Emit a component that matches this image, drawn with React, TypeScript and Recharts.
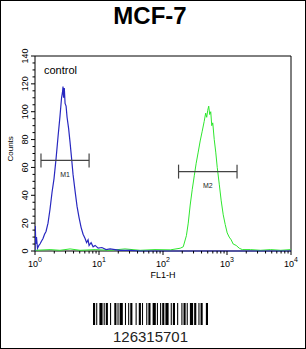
import React from "react";
import {
  LineChart,
  Line,
  XAxis,
  YAxis,
  ReferenceArea,
  ReferenceLine,
  ReferenceDot,
} from "recharts";

// control histogram (FL1-H, counts)
const controlFl1 = [
  1.0, 1.011, 1.029, 1.055, 1.094, 1.15, 1.197, 1.26, 1.334, 1.41, 1.487, 1.597,
  1.716, 1.844, 1.983, 2.13, 2.29, 2.46, 2.6, 2.69, 2.74, 2.8, 2.87, 2.95, 3.06,
  3.17, 3.35, 3.53, 3.72, 3.93, 4.23, 4.54, 4.88, 5.25, 5.64, 6.06, 6.4, 6.75,
  7.0, 7.53, 8.09, 8.7, 9.7, 11.1, 12.9, 14.9, 17.8, 21.4, 30.6, 44, 100, 1000,
  10000,
];
const controlCounts = [
  0, 18, 5, 10, 2, 4, 5, 7, 9, 12, 14, 20, 30, 42, 52, 66, 82, 97, 110, 114,
  118, 110, 117, 106, 104, 96, 88, 78, 67, 55, 43, 32, 24, 17, 12, 9, 6, 8, 4,
  6, 3, 4, 2, 2.5, 1, 1.5, 1, 0.5, 0.5, 0, 0, 0, 0,
];

// sample histogram
const sampleFl1 = [
  1.0, 1.72, 2.46, 3.53, 5.06, 8.7, 14.9, 25.5, 44, 75, 130, 186, 207, 232, 248,
  266, 286, 308, 330, 355, 381, 410, 440, 464, 482, 500, 518, 537, 557, 578,
  599, 632, 667, 704, 757, 812, 873, 938, 1007, 1082, 1163, 1250, 1391, 1553,
  1732, 2320, 3340, 4800, 6900, 9900,
];
const sampleCounts = [
  0.5, 1, 0.5, 1.5, 0.5, 1, 0.5, 1.5, 0.5, 1, 0.8, 2, 3, 11, 20, 33, 44, 54, 63,
  71, 79, 86, 93, 99, 96, 101, 104, 98, 100, 90, 92, 80, 71, 60, 48, 36, 26, 19,
  13, 10, 8, 5, 4, 2, 1, 1, 0.5, 1, 0.5, 1,
];

const majorX = [1, 10, 100, 1000, 10000];
const minorMult = [2, 3, 4, 5, 6, 7, 8, 9];
const yTicks = [
  0, 5, 10, 15, 20, 25, 30, 35, 40, 45, 50, 55, 60, 65, 70, 75, 80, 85, 90, 95,
  100, 105, 110, 115, 120, 125, 130, 135, 140,
];

const markers = [
  { name: "M1", from: 1.24, to: 7.0, level: 65 },
  { name: "M2", from: 175, to: 1435, level: 57 },
];

const barcodeWidths = [
  2, 1, 1, 2, 3, 1, 1, 1, 2, 2, 1, 3, 2, 1, 1, 1, 3, 2, 1, 2, 1, 1, 2, 3, 1, 2,
  2, 1, 1, 3, 1, 1, 2, 2, 3, 1, 1, 2, 1, 1, 2, 1, 3, 2, 1, 1, 2, 2, 1, 3, 1, 1,
  2, 1, 1, 2, 3, 1, 2, 2, 1, 1, 2, 3, 2,
];
const barcodeText = "126315701";

const blueData = controlFl1.map((fl1, i) => ({ fl1, count: controlCounts[i] }));
const greenData = sampleFl1.map((fl1, i) => ({ fl1, count: sampleCounts[i] }));
const xTicks = majorX.flatMap((d) =>
  d === 10000 ? [d] : [d, ...minorMult.map((m) => d * m)],
);

const font = "'Liberation Sans', Arial, sans-serif";

function XTick(props: any) {
  const { x, y, payload } = props;
  const v = payload.value as number;
  const major = majorX.includes(v);
  return (
    <g>
      <line x1={x} x2={x} y1={y} y2={y + (major ? 4 : 2.5)} stroke="#000" />
      {major && (
        <text x={x} y={y + 16} textAnchor="middle" fontSize={9} fontFamily={font} fill="#000">
          10
          <tspan dy={-5} fontSize={7}>
            {Math.round(Math.log10(v))}
          </tspan>
        </text>
      )}
    </g>
  );
}

function YTick(props: any) {
  const { x, y, payload } = props;
  const v = payload.value as number;
  const major = v % 20 === 0;
  return (
    <g>
      <line x1={x} x2={x - (major ? 4 : 2.5)} y1={y} y2={y} stroke="#000" />
      {major && (
        <text
          x={0}
          y={0}
          transform={`translate(${x - 7},${y}) rotate(-90)`}
          textAnchor="middle"
          fontSize={9}
          fontFamily={font}
          fill="#000"
        >
          {v}
        </text>
      )}
    </g>
  );
}

function Barcode() {
  const total = barcodeWidths.reduce((a, b) => a + b, 0);
  const k = 115 / total;
  let pos = 0;
  const rects: React.ReactNode[] = [];
  barcodeWidths.forEach((w, i) => {
    if (i % 2 === 0) {
      rects.push(<rect key={i} x={pos * k} y={0} width={w * k} height={22} fill="#000" />);
    }
    pos += w;
  });
  return (
    <svg width={115} height={22} style={{ position: "absolute", left: 92, top: 302 }}>
      {rects}
    </svg>
  );
}

export default function App() {
  return (
    <div
      style={{
        position: "absolute",
        left: 0,
        top: 0,
        width: 306,
        height: 349,
        boxSizing: "border-box",
        border: "1px solid #000",
        background: "#fff",
        fontFamily: font,
        overflow: "hidden",
      }}
    >
      <div style={{ position: "absolute", left: -1, top: -1 }}>
        <LineChart
          width={306}
          height={349}
          margin={{ top: 56, right: 15, bottom: 68, left: 0 }}
        >
          <XAxis
            dataKey="fl1"
            type="number"
            scale="log"
            domain={[1, 10000]}
            allowDataOverflow
            ticks={xTicks}
            interval={0}
            tick={<XTick />}
            tickSize={0}
            tickMargin={0}
            tickLine={false}
            axisLine={false}
            height={30}
            label={{ value: "FL1-H", position: "insideBottom", offset: 0, fontSize: 9, fill: "#000", fontFamily: font, dy: -3 }}
          />
          <YAxis
            type="number"
            domain={[0, 140]}
            ticks={yTicks}
            interval={0}
            tick={<YTick />}
            tickSize={0}
            tickMargin={0}
            tickLine={false}
            axisLine={false}
            width={35}
            label={{ value: "Counts", angle: -90, position: "insideLeft", offset: 0, fontSize: 8, fill: "#000", fontFamily: font, dx: 10, dy: 8 }}
          />
          <Line
            data={greenData}
            dataKey="count"
            stroke="#2ee62e"
            strokeWidth={1}
            dot={false}
            type="linear"
            isAnimationActive={false}
          />
          <Line
            data={blueData}
            dataKey="count"
            stroke="#2828c0"
            strokeWidth={1.2}
            dot={false}
            type="linear"
            isAnimationActive={false}
          />
          <ReferenceArea
            x1={1}
            x2={10000}
            y1={0}
            y2={140}
            fill="none"
            stroke="#000"
            strokeWidth={1}
            ifOverflow="visible"
          />
          {markers.map((m) => (
            <ReferenceLine
              key={m.name}
              segment={[
                { x: m.from, y: m.level },
                { x: m.to, y: m.level },
              ]}
              stroke="#444"
              strokeWidth={1.2}
              ifOverflow="visible"
            />
          ))}
          {markers.flatMap((m) =>
            [m.from, m.to].map((x) => (
              <ReferenceLine
                key={`${m.name}-${x}`}
                segment={[
                  { x, y: m.level - 5 },
                  { x, y: m.level + 5 },
                ]}
                stroke="#444"
                strokeWidth={1.2}
                ifOverflow="visible"
              />
            )),
          )}
          {markers.map((m) => (
            <ReferenceDot
              key={`${m.name}-lbl`}
              x={Math.sqrt(m.from * m.to)}
              y={m.level - 10}
              r={0}
              fill="none"
              stroke="none"
              ifOverflow="visible"
              label={{ value: m.name, position: "center", fontSize: 7, fill: "#222", fontFamily: font }}
            />
          ))}
        </LineChart>
      </div>
      <div
        style={{
          position: "absolute",
          left: 0,
          width: 298,
          top: 1,
          textAlign: "center",
          fontSize: 24,
          fontWeight: "bold",
          lineHeight: "28px",
        }}
      >
        MCF-7
      </div>
      <div style={{ position: "absolute", left: 43, top: 63, fontSize: 11 }}>control</div>
      <Barcode />
      <div
        style={{
          position: "absolute",
          left: 92,
          width: 115,
          top: 327,
          textAlign: "center",
          fontSize: 15,
          lineHeight: "17px",
          color: "#222",
        }}
      >
        {barcodeText}
      </div>
    </div>
  );
}
